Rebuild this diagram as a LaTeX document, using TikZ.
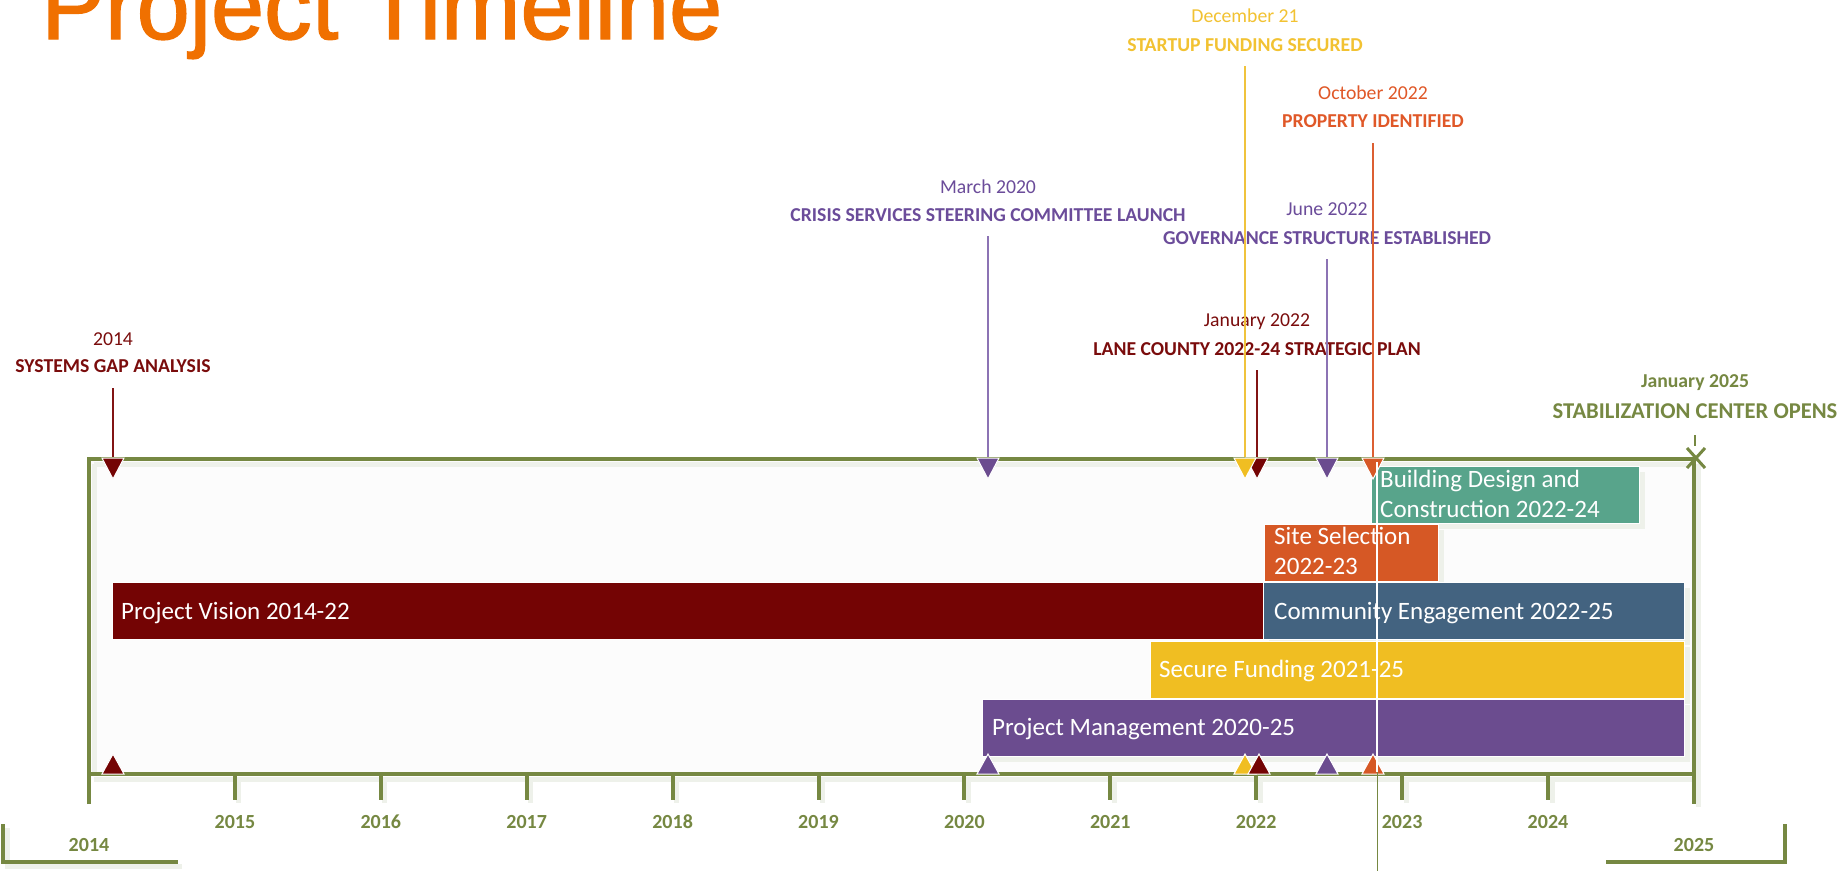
\documentclass[tikz,border=0pt]{standalone}
\usepackage{fontspec}
\setmainfont{Carlito}
\newfontfamily\titlefont[FakeBold=1.5]{Liberation Sans}
\definecolor{cRed}{RGB}{116,4,4}
\definecolor{cBlue}{RGB}{67,99,128}
\definecolor{cYellow}{RGB}{240,190,34}
\definecolor{cPurple}{RGB}{107,76,143}
\definecolor{cOrange}{RGB}{214,88,37}
\definecolor{cTeal}{RGB}{88,164,139}
\definecolor{cOlive}{RGB}{118,136,66}
\definecolor{cTitle}{RGB}{240,112,0}
\definecolor{tRed}{RGB}{122,12,12}
\definecolor{tPurple}{RGB}{107,76,154}
\definecolor{tYellow}{RGB}{242,194,50}
\definecolor{tOrange}{RGB}{224,88,40}
\definecolor{lRed}{RGB}{130,20,20}
\definecolor{lPurple}{RGB}{140,115,180}
\definecolor{lYellow}{RGB}{240,195,60}
\definecolor{lOrange}{RGB}{220,95,50}
\definecolor{cBack}{RGB}{252,252,252}
\definecolor{cShadow}{RGB}{238,241,234}
\begin{document}
\begin{tikzpicture}[x=1pt,y=-1pt,
  datelbl/.style={anchor=base, inner sep=0pt, font=\fontsize{19.7}{24}\selectfont},
  titlelbl/.style={anchor=base, inner sep=0pt, font=\bfseries\fontsize{19.7}{24}\selectfont},
  yearlbl/.style={anchor=base, inner sep=0pt, text=cOlive, font=\bfseries\fontsize{20}{24}\selectfont},
  bartext/.style={anchor=base west, inner sep=0pt, text=white, font=\fontsize{25}{30}\selectfont},
  barbox/.style={draw=white, line width=0.8pt},
  mline/.style={line width=1.5pt},
  frameline/.style={draw=cOlive, line width=4.5pt},
  shadowline/.style={draw=cShadow, line width=5pt},
  marker/.style={draw=white, line width=1pt},
  dtri/.pic={\path[pic actions] (-11,0) -- (11,0) -- (0,21) -- cycle;},
  utri/.pic={\path[pic actions] (-11,0) -- (11,0) -- (0,-20) -- cycle;}
]
\useasboundingbox (0,0) rectangle (1845,871);
\fill[white] (0,0) rectangle (1845,871);

% title
\node[anchor=base west, inner sep=0pt, text=cTitle, font=\titlefont\fontsize{95.5}{100}\selectfont] (title) at (41,39) {Project Timeline};

% frame background and shadow
\fill[cBack] (89,459) rectangle (1694,774);
\draw[shadowline] (94,464) -- (1690,464);
\draw[shadowline] (94,464) -- (94,772);
\draw[shadowline] (94,779) -- (1692,779);
\foreach \k [evaluate=\k as \xx using 89+\k*145.9] in {1,...,10} {
  \draw[shadowline] (\xx+4,779) -- (\xx+4,803);
}
\draw[shadowline] (1698,464) -- (1698,807);
\draw[shadowline] (7,828) -- (7,866) -- (182,866);

% bar shadows
\fill[cShadow] (1377,472) rectangle (1645,529);
\fill[cShadow] (1270,530) rectangle (1444,587);
\fill[cShadow] (1269,588) rectangle (1690,645);
\fill[cShadow] (1156,647) rectangle (1690,704);
\fill[cShadow] (988,705) rectangle (1690,762);

% bars
\path[barbox, fill=cTeal] (1371,466) rectangle (1639,523);
\path[barbox, fill=cOrange] (1264,524) rectangle (1438,581);
\path[barbox, fill=cRed] (112,582) rectangle (1263,639);
\path[barbox, fill=cBlue] (1263,582) rectangle (1684,639);
\path[barbox, fill=cYellow] (1150,641) rectangle (1684,698);
\path[barbox, fill=cPurple] (982,699) rectangle (1684,756);

% bar texts
\node[bartext] (bd1) at (1380,487) {Building Design and};
\node[bartext] (bd2) at (1380,517) {Construction 2022-24};
\node[bartext] (ss1) at (1274,544) {Site Selection};
\node[bartext] (ss2) at (1274,574) {2022-23};
\node[bartext] (pv) at (121,619) {Project Vision 2014-22};
\node[bartext] (ce) at (1274,619) {Community Engagement 2022-25};
\node[bartext] (sf) at (1159,677) {Secure Funding 2021-25};
\node[bartext] (pm) at (992,735) {Project Management 2020-25};

% milestone labels
\node[datelbl, text=tRed] (d1) at (113,345) {2014};
\node[titlelbl, text=tRed] (t1) at (113,372) {SYSTEMS GAP ANALYSIS};
\node[datelbl, text=tPurple] (d2) at (988,193) {March 2020};
\node[titlelbl, text=tPurple] (t2) at (988,221) {CRISIS SERVICES STEERING COMMITTEE LAUNCH};
\node[datelbl, text=tYellow] (d3) at (1245,22) {December 21};
\node[titlelbl, text=tYellow] (t3) at (1245,51) {STARTUP FUNDING SECURED};
\node[datelbl, text=tOrange] (d4) at (1373,99) {October 2022};
\node[titlelbl, text=tOrange] (t4) at (1373,127) {PROPERTY IDENTIFIED};
\node[datelbl, text=tPurple] (d5) at (1327,215) {June 2022};
\node[titlelbl, text=tPurple] (t5) at (1327,244) {GOVERNANCE STRUCTURE ESTABLISHED};
\node[datelbl, text=tRed] (d6) at (1257,326) {January 2022};
\node[titlelbl, text=tRed] (t6) at (1257,355) {LANE COUNTY 2022-24 STRATEGIC PLAN};
\node[titlelbl, text=cOlive] (d7) at (1695,387) {January 2025};
\node[titlelbl, text=cOlive, font=\bfseries\fontsize{22.6}{26}\selectfont] (t7) at (1695,418) {STABILIZATION CENTER OPENS};

% milestone line coordinates
\coordinate (c1) at (113,388);  \coordinate (m1) at (113,459);
\coordinate (c2) at (988,236);  \coordinate (m2) at (988,459);
\coordinate (c3) at (1245,66);  \coordinate (m3) at (1245,459);
\coordinate (c4) at (1373,143); \coordinate (m4) at (1373,459);
\coordinate (c5) at (1327,259); \coordinate (m5) at (1327,459);
\coordinate (c6) at (1257,370); \coordinate (m6) at (1257,459);
\coordinate (c7) at (1695,435); \coordinate (m7) at (1695,446);

\draw[mline, lRed] (c1) -- (m1);
\draw[mline, lPurple] (c2) -- (m2);
\draw[mline, lYellow] (c3) -- (m3);
\draw[mline, lOrange] (c4) -- (m4);
\draw[mline, lPurple] (c5) -- (m5);
\draw[mline, lRed] (c6) -- (m6);
\draw[line width=1.5pt, cOlive] (c7) -- (m7);

% frame
\draw[frameline] (89,804) -- (89,459) -- (1694,459) -- (1694,804);
\draw[frameline] (89,774) -- (1694,774);
\foreach \k [evaluate=\k as \xx using 89+\k*145.9] in {1,...,10} {
  \draw[frameline, line width=4pt] (\xx,774) -- (\xx,800);
}
% brackets
\draw[frameline] (3,824) -- (3,862) -- (178,862);
\draw[frameline] (1606,862) -- (1785,862) -- (1785,824);

% years
\foreach \k [evaluate=\k as \xx using 89+\k*145.9, evaluate=\k as \yr using int(2014+\k)] in {1,...,10} {
  \node[yearlbl] (yr\yr) at (\xx,828) {\yr};
}
\node[yearlbl] (yr2014) at (89,851) {2014};
\node[yearlbl] (yr2025) at (1694,851) {2025};

% end marker X
\draw[cOlive, line width=3pt] (1687,448) -- (1705,468);
\draw[cOlive, line width=3pt] (1687,468) -- (1705,448);

% top markers
\pic[marker, fill=cRed] at (113,458) {dtri};
\pic[marker, fill=cPurple] at (988,458) {dtri};
\pic[marker, fill=cRed] at (1257,458) {dtri};
\pic[marker, fill=cYellow] at (1245,458) {dtri};
\pic[marker, fill=cPurple] at (1327,458) {dtri};
\pic[marker, fill=cOrange] at (1373,458) {dtri};
% bottom markers
\pic[marker, fill=cRed] at (113,774) {utri};
\pic[marker, fill=cPurple] at (988,774) {utri};
\pic[marker, fill=cYellow] at (1245,774) {utri};
\pic[marker, fill=cRed] at (1259,774) {utri};
\pic[marker, fill=cPurple] at (1327,774) {utri};
\pic[marker, fill=cOrange] at (1373,774) {utri};

% today line
\coordinate (td1) at (1377,462);
\coordinate (td2) at (1377,772);
\coordinate (td3) at (1377,871);
\draw[white, line width=1.3pt] (td1) -- (td2);
\draw[cOlive, line width=1pt] (td2) -- (td3);
\end{tikzpicture}
\end{document}
